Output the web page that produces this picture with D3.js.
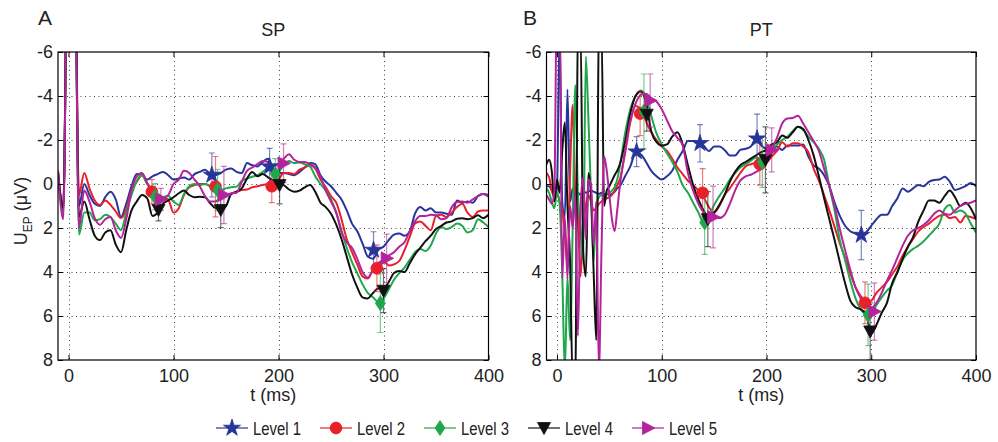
<!DOCTYPE html>
<html>
<head>
<meta charset="utf-8">
<script src="https://cdn.jsdelivr.net/npm/d3@7"></script>
<style>
  body { margin: 0; background: #fff; }
  svg { display: block; font-family: "Liberation Sans", Arial, Helvetica, sans-serif; }
</style>
</head>
<body>
<svg id="chart" width="998" height="442"></svg>
<script>
// ---- data -------------------------------------------------------------
const levels = ["Level 1", "Level 2", "Level 3", "Level 4", "Level 5"];
const xTicks = [0, 100, 200, 300, 400];
const yTicks = [-6, -4, -2, 0, 2, 4, 6, 8];

// sample times (ms)
const timesSP = d3.range(-10, 401, 5);
const timesPT = d3.range(-10, 60, 2.5).concat(d3.range(60, 401, 5));

// SP: averaged evoked potential per level (µV), one value per sample time
const spL1 = [-0.5, 1.0, -15, -15, 1.0, 0.0, 0.5, 0.9, 1.0, 0.6,
  0.35, 0.7, 1.5, 0.9, 0.1, -0.45, -0.4, -0.2, -0.35, -0.45,
  -0.55, -0.4, -0.2, -0.25, -0.3, -0.2, -0.45, -0.55, -0.65, -0.45,
  -0.4, -0.5, -0.65, -0.7, -0.55, -0.5, -0.95, -0.85, -0.8, -1.0,
  -1.15, -0.7, -0.5, -0.5, -0.45, -0.4, -0.55, -0.75, -0.95, -0.9,
  -0.4, -0.1, 0.1, 0.4, 0.7, 1.2, 1.8, 2.15, 2.7, 3.3,
  3.4, 3.0, 2.85, 2.55, 2.3, 2.25, 2.35, 2.15, 1.35, 1.05,
  1.2, 1.1, 1.3, 1.3, 1.35, 1.4, 0.75, 0.85, 0.8, 0.85,
  0.55, 0.45, 0.5];
const spL2 = [-0.6, 1.2, -15, -15, 0.5, -0.5, 0.2, 0.75, 0.95, 0.75,
  0.95, 1.25, 1.55, 1.15, 0.3, -0.1, -0.4, 0.0, 0.3, 0.45,
  0.6, 0.7, 1.3, 1.1, 0.5, 0.15, 0.05, 0.0, 0.0, 0.1,
  0.2, 0.45, 0.5, 0.45, 0.35, 0.27, 0.25, 0.15, 0.1, 0.05,
  0.0, -0.05, -0.2, -0.5, -0.5, -0.45, -0.65, -0.75, -0.85, -0.7,
  -0.2, 0.15, 0.55, 0.85, 1.6, 2.5, 3.1, 3.65, 4.2, 4.3,
  3.9, 3.75, 3.5, 3.7, 3.65, 3.5, 3.0, 2.4, 1.8, 1.7,
  1.9, 2.1, 1.45, 1.4, 1.5, 1.3, 1.05, 0.9, 1.3, 1.5,
  1.25, 1.2, 1.2];
const spL3 = [-0.6, 1.3, -15, -15, 2.3, 1.3, 1.3, 1.65, 1.6, 1.4,
  1.5, 1.8, 2.1, 1.3, 0.5, -0.15, -0.4, 0.0, 0.35, 0.7,
  0.6, 0.55, 0.8, 0.95, 0.45, 0.1, 0.0, 0.05, 0.0, 0.1,
  0.25, 0.27, 0.2, 0.15, 0.12, -0.15, -0.25, -0.33, -0.4, -0.55,
  -0.7, -0.45, -0.55, -0.85, -1.05, -0.95, -0.98, -0.9, -0.8, -0.35,
  0.0, 0.3, 0.7, 1.3, 2.1, 2.9, 3.55, 4.05, 4.55, 4.95,
  5.15, 5.35, 5.2, 4.8, 4.35, 4.05, 3.8, 3.45, 3.1, 2.95,
  3.05, 2.8, 2.25, 1.95, 2.05, 1.95, 1.8, 1.9, 2.2, 2.1,
  1.6, 1.75, 1.95];
const spL4 = [-0.5, 1.1, -15, -15, 1.5, 0.8, 1.6, 2.35, 2.55, 2.2,
  2.1, 2.75, 3.1, 2.1, 1.2, 0.8, 0.5, 0.65, 1.45, 1.3,
  0.9, 0.75, 0.6, 0.42, 0.3, 0.5, 0.6, 0.58, 0.6, 0.88,
  1.1, 1.15, 1.0, 0.45, 0.35, 0.2, -0.25, -0.55, -0.35, -0.45,
  -0.3, -0.15, 0.0, 0.05, 0.25, 0.35, 0.3, 0.15, 0.05, 0.35,
  0.85, 1.05, 1.35, 1.85, 2.5, 3.3, 4.1, 4.7, 5.15, 5.2,
  4.95, 4.75, 4.75, 4.45, 4.05, 3.95, 4.0, 3.6, 3.2, 2.9,
  2.6, 2.35, 2.05, 1.9, 1.75, 1.7, 1.58, 1.56, 1.6, 1.55,
  1.42, 1.55, 1.4];
const spL5 = [-0.6, 1.6, -15, -15, 2.0, 0.3, 0.8, 1.55, 1.85, 1.6,
  1.5, 2.1, 2.45, 1.6, 0.3, -0.35, -0.5, -0.05, 0.3, 0.55,
  0.65, 0.5, 0.0, -0.2, -0.6, -0.5, -0.2, 0.1, 0.55, 0.8,
  0.8, 0.6, 0.5, 0.42, 0.4, -0.1, -0.6, -0.75, -0.9, -1.05,
  -1.0, -0.85, -0.9, -1.15, -1.35, -1.1, -1.0, -1.0, -0.9, -0.75,
  -0.33, 0.3, 0.8, 1.3, 2.2, 2.65, 2.9, 3.4, 4.0, 4.25,
  3.9, 3.6, 3.45, 3.25, 3.1, 2.85, 2.65, 2.15, 1.7, 1.45,
  1.45, 1.4, 1.42, 1.6, 1.55, 1.05, 0.82, 0.8, 0.85, 0.7,
  0.55, 0.45, 0.58];

// PT: first 28 samples every 2.5 ms, then every 5 ms
const ptL1 = [0.1, 0.1, 0.3, 0.5, 0.2, -7, 0.8, 1.5, -4.3, 0.8,
  0.2, 0.6, 0.4, 0.5, 0.3, 0.4, 0.35, 0.3, 0.35, 0.4,
  0.45, 0.4, 0.5, 0.45, 0.5, 0.45, 0.35, 0.2,
  0.1, -0.35, -0.8, -1.4, -1.35, -1.0, -0.6, -0.35, -0.2, -0.35,
  -0.6, -1.1, -1.5, -1.95, -1.95, -1.9, -1.75, -1.5, -1.7, -1.7,
  -1.55, -1.3, -1.3, -1.55, -1.6, -1.7, -2.05, -1.75, -1.6, -1.65,
  -1.7, -1.55, -1.75, -1.75, -1.75, -1.8, -1.25, -0.85, -0.7, -0.4,
  0.1, 0.85, 1.45, 1.9, 2.15, 2.25, 2.35, 2.2, 1.9, 1.6,
  1.4, 1.4, 1.0, 0.65, 0.2, 0.35, 0.2, 0.05, 0.1, -0.1,
  -0.18, -0.2, -0.33, -0.1, 0.27, 0.2, 0.1, -0.05, 0.1];
const ptL2 = [-0.5, -0.3, 0.3, 0.6, 0.4, 0.8, 1.2, 2.2, 3.7, -0.5,
  -3.6, 0.5, 1.5, 4.2, 2.0, 1.0, 0.5, 0.8, 1.2, 1.1,
  0.9, 0.8, 0.7, 0.65, 0.6, 0.5, 0.3, 0.05,
  -0.2, -1.4, -2.8, -3.55, -3.4, -2.85, -2.35, -2.0, -1.7, -1.5,
  -1.15, -0.75, -0.45, -0.15, 0.05, 0.3, 0.6, 1.05, 1.3, 1.0,
  0.5, 0.2, -0.15, -0.5, -0.8, -0.9, -0.95, -0.85, -0.95, -1.25,
  -1.5, -1.9, -1.7, -1.85, -1.85, -1.7, -1.45, -0.7, -0.15, 0.5,
  1.2, 1.95, 2.7, 3.35, 4.05, 4.7, 5.1, 5.35, 5.3, 4.95,
  4.7, 4.45, 4.1, 3.75, 3.25, 2.85, 2.5, 2.15, 1.95, 1.8,
  1.6, 1.45, 1.4, 1.55, 1.5, 1.75, 1.45, 1.5, 1.6];
const ptL3 = [0.2, 0.4, 0.8, 1.1, 0.4, 0.9, 4.0, 8.5, 4.2, 7.1,
  2.0, -4.5, 0.5, 2.0, 3.5, -5.8, -3.0, 0.5, 3.5, 1.0,
  0.6, 0.5, 0.55, 0.45, 0.4, 0.3, 0.15, -0.2,
  -0.8, -2.3, -3.4, -4.0, -4.25, -3.95, -3.1, -2.3, -1.8, -1.4,
  -1.0, -0.55, 0.05, 0.4, 0.85, 1.3, 1.75, 1.5, 0.95, 0.55,
  0.2, -0.2, -0.5, -0.75, -0.9, -1.05, -1.2, -1.15, -1.3, -1.6,
  -1.8, -2.0, -2.15, -2.4, -2.6, -2.45, -2.15, -1.9, -1.6, -1.1,
  0.1, 1.2, 2.55, 3.45, 4.4, 5.2, 5.7, 5.9, 5.9, 5.5,
  5.15, 4.85, 4.6, 4.0, 3.45, 3.15, 2.95, 2.8, 2.6, 2.35,
  2.1, 1.8, 1.15, 0.95, 1.3, 1.2, 1.35, 1.8, 2.2];
const ptL4 = [-0.9, -1.1, -0.6, 0.8, -0.2, 0.4, -1.5, -2.8, 1.0, 3.5,
  9, 9, -7, -7, 3.0, 4.2, -0.5, 0.5, 4.0, 7.1,
  -7, -7, 1.0, 0.3, 0.1, -0.15, -0.4, -0.6,
  -0.9, -1.9, -3.2, -4.0, -4.2, -3.7, -2.4, -1.9, -1.75, -1.8,
  -2.15, -2.35, -1.8, -0.85, 0.05, 0.7, 1.2, 1.5, 1.3, 0.95,
  0.5, -0.1, -0.55, -0.85, -1.0, -1.15, -1.3, -1.45, -1.55, -1.8,
  -1.9, -2.2, -2.1, -2.35, -2.6, -2.5, -2.0, -1.3, -0.35, 0.65,
  1.6, 2.55, 3.55, 4.5, 5.3, 5.6, 5.7, 5.9, 6.8, 6.4,
  5.85, 5.4, 4.5, 4.0, 3.4, 2.85, 2.4, 1.7, 1.2, 0.75,
  0.75, 0.85, 0.55, 0.3, 0.6, 1.0, 0.85, 1.1, 1.6];
const ptL5 = [0.5, 0.7, 0.9, 0.3, -9, -9, 4.3, 1.5, 4.3, 1.0,
  2.0, 0.5, 6.9, 1.0, -0.3, 2.5, -0.2, 0.0, 2.8, 0.8,
  8.5, 3.0, -1.25, -0.6, 0.5, 1.6, 2.15, 1.2,
  0.1, -1.5, -2.9, -3.65, -4.05, -4.1, -3.9, -3.75, -3.4, -2.9,
  -2.4, -2.1, -1.75, -0.5, 0.3, 0.9, 1.3, 1.5, 1.5, 1.55,
  1.4, 0.9, 0.3, -0.15, -0.35, -0.42, -0.55, -0.7, -1.1, -1.6,
  -2.1, -2.75, -2.98, -3.0, -3.1, -2.75, -2.35, -1.95, -1.5, -0.7,
  0.1, 1.0, 2.05, 3.0, 3.9, 4.7, 5.2, 5.55, 5.65, 5.4,
  4.95, 4.4, 3.9, 3.35, 2.8, 2.35, 2.1, 2.0, 1.85, 1.65,
  1.35, 1.2, 1.35, 1.4, 1.2, 1.0, 0.9, 0.85, 0.75];

// component peaks: latency (ms), mean amplitude (µV), error (µV) per level
const spPeakTimes = [[136.5, 191.5, 290.5], [79.4, 140, 193.6, 293.7], [82.5, 142, 197, 297], [85.7, 145, 201, 300], [88, 148, 204.8, 303]];
const spPeakMeans = [[-0.41, -0.79, 3.0], [0.35, 0.12, 0.1, 3.83], [0.58, 0.27, -0.45, 5.42], [1.18, 1.18, 0.05, 4.85], [0.7, 0.5, -0.94, 3.38]];
const spPeakErrs  = [[1.0, 0.83, 0.83], [0.55, 1.37, 0.75, 1.06], [0.6, 0.94, 0.7, 1.33], [0.5, 0.8, 0.85, 1.0], [0.5, 1.3, 0.88, 1.1]];

const ptPeakTimes = [[76, 136.5, 191, 290.5], [79.4, 139, 193.6, 294], [83, 141, 196, 297], [85.7, 144, 199, 299], [89, 149, 205, 303]];
const ptPeakMeans = [[-1.47, -1.85, -2.06, 2.32], [-3.2, 0.4, -0.9, 5.4], [-3.3, 1.75, -1.0, 5.95], [-3.15, 1.6, -1.1, 6.7], [-3.8, 1.5, -1.55, 5.8]];
const ptPeakErrs  = [[0.68, 0.85, 1.12, 1.12], [1.0, 1.1, 0.95, 0.95], [1.7, 1.45, 1.15, 1.4], [0.75, 1.25, 1.5, 1.3], [1.2, 1.4, 1.0, 1.3]];

// ---- styling ----------------------------------------------------------
const colors = ["#27349a", "#e8202a", "#1ea84b", "#111111", "#b3239b"];
const markerPaths = [
  d3.symbol(d3.symbolStar, 90)(),
  d3.symbol(d3.symbolCircle, 110)(),
  "M0,-7.5L5,0L0,7.5L-5,0Z",
  "M-6.5,-5.5L6.5,-5.5L0,6.5Z",
  "M-5.5,-6.5L7,0L-5.5,6.5Z"
];

const svg = d3.select("#chart");
const plotTop = 52, plotBottom = 360;
const y = d3.scaleLinear().domain([-6, 8]).range([plotTop, plotBottom]);

function drawPanel(cfg, idx) {
  const x = d3.scaleLinear().domain([-10, 400]).range([cfg.left, cfg.right]);
  const g = svg.append("g");
  const clipId = "clip" + idx;
  svg.append("clipPath").attr("id", clipId)
    .append("rect").attr("x", cfg.left).attr("y", plotTop)
    .attr("width", cfg.right - cfg.left).attr("height", plotBottom - plotTop);

  // dotted grid
  const grid = g.append("g").attr("stroke", "#444").attr("stroke-width", 1)
    .attr("stroke-dasharray", "1,3.5");
  grid.selectAll("line.gx").data(xTicks.filter(d => d < 400)).join("line")
    .attr("class", "gx")
    .attr("x1", d => Math.round(x(d)) + 0.5).attr("x2", d => Math.round(x(d)) + 0.5)
    .attr("y1", plotTop).attr("y2", plotBottom);
  grid.selectAll("line.gy").data(yTicks.filter(d => d > -6 && d < 8)).join("line")
    .attr("class", "gy")
    .attr("x1", cfg.left).attr("x2", cfg.right)
    .attr("y1", d => Math.round(y(d)) + 0.5).attr("y2", d => Math.round(y(d)) + 0.5);

  // curves
  const line = d3.line().x(d => x(d[0])).y(d => y(d[1])).curve(d3.curveMonotoneX);
  const plot = g.append("g").attr("clip-path", `url(#${clipId})`);
  cfg.series.forEach((vals, i) => {
    const pts = cfg.times.map((t, k) => [t, vals[k]]);
    plot.append("path").datum(pts)
      .attr("fill", "none").attr("stroke", colors[i])
      .attr("stroke-width", 2).attr("stroke-linejoin", "round")
      .attr("d", line);
  });

  // error bars and peak markers
  cfg.peakTimes.forEach((ts, i) => {
    ts.forEach((t, j) => {
      const m = cfg.peakMeans[i][j], e = cfg.peakErrs[i][j];
      const px = x(t);
      const eb = plot.append("g").attr("stroke", colors[i]).attr("stroke-width", 1.2)
        .attr("stroke-opacity", 0.6);
      eb.append("line").attr("x1", px).attr("x2", px).attr("y1", y(m - e)).attr("y2", y(m + e));
      eb.append("line").attr("x1", px - 3).attr("x2", px + 3).attr("y1", y(m - e)).attr("y2", y(m - e));
      eb.append("line").attr("x1", px - 3).attr("x2", px + 3).attr("y1", y(m + e)).attr("y2", y(m + e));
    });
  });
  cfg.peakTimes.forEach((ts, i) => {
    ts.forEach((t, j) => {
      plot.append("path").attr("d", markerPaths[i])
        .attr("transform", `translate(${x(t)},${y(cfg.peakMeans[i][j])})`)
        .attr("fill", colors[i]).attr("stroke", colors[i]).attr("stroke-width", 0.8);
    });
  });

  // frame
  g.append("rect").attr("x", cfg.left).attr("y", plotTop)
    .attr("width", cfg.right - cfg.left).attr("height", plotBottom - plotTop)
    .attr("fill", "none").attr("stroke", "#000").attr("stroke-width", 1.2);

  // axes (inward ticks on all four sides)
  const fmt = d => String(d);
  const styleAxis = sel => {
    sel.select(".domain").remove();
    sel.selectAll(".tick line").attr("stroke", "#000");
    sel.selectAll("text").attr("font-size", 18).attr("fill", "#222")
      .attr("font-family", "Liberation Sans, Arial, sans-serif");
  };
  g.append("g").attr("transform", `translate(${cfg.left},0)`)
    .call(d3.axisLeft(y).tickValues(yTicks).tickSize(-5).tickPadding(5).tickFormat(fmt))
    .call(styleAxis);
  g.append("g").attr("transform", `translate(${cfg.right},0)`)
    .call(d3.axisRight(y).tickValues(yTicks).tickSize(-5).tickFormat(""))
    .call(styleAxis);
  g.append("g").attr("transform", `translate(0,${plotBottom})`)
    .call(d3.axisBottom(x).tickValues(xTicks).tickSize(-5).tickPadding(9).tickFormat(fmt))
    .call(styleAxis);
  g.append("g").attr("transform", `translate(0,${plotTop})`)
    .call(d3.axisTop(x).tickValues(xTicks).tickSize(-5).tickFormat(""))
    .call(styleAxis);

  const cx = (cfg.left + cfg.right) / 2;
  g.append("text").attr("x", cx).attr("y", 36).attr("text-anchor", "middle")
    .attr("font-size", 18).attr("fill", "#222").text(cfg.title);
  g.append("text").attr("x", cfg.letterX).attr("y", 25).attr("text-anchor", "middle")
    .attr("font-size", 21).attr("fill", "#222").text(cfg.letter);
  g.append("text").attr("x", cx).attr("y", 401).attr("text-anchor", "middle")
    .attr("font-size", 18).attr("fill", "#222").text("t (ms)");
}

const panels = [
  { letter: "A", letterX: 45, title: "SP", left: 58, right: 488.5, times: timesSP,
    series: [spL1, spL2, spL3, spL4, spL5],
    peakTimes: spPeakTimes, peakMeans: spPeakMeans, peakErrs: spPeakErrs },
  { letter: "B", letterX: 530, title: "PT", left: 546.5, right: 976, times: timesPT,
    series: [ptL1, ptL2, ptL3, ptL4, ptL5],
    peakTimes: ptPeakTimes, peakMeans: ptPeakMeans, peakErrs: ptPeakErrs }
];
panels.forEach(drawPanel);

// y-axis label
const yl = svg.append("text").attr("transform", "translate(27,211) rotate(-90)")
  .attr("text-anchor", "middle").attr("font-size", 18).attr("fill", "#222");
yl.append("tspan").text("U");
yl.append("tspan").attr("font-size", 12).attr("dy", 5).text("EP");
yl.append("tspan").attr("dy", -5).text(" (\u03BCV)");

// legend
const legend = svg.append("g");
levels.forEach((name, i) => {
  const lx = 216 + i * 104;
  const item = legend.append("g");
  item.append("line").attr("x1", lx).attr("x2", lx + 32).attr("y1", 428).attr("y2", 428)
    .attr("stroke", colors[i]).attr("stroke-width", 1.2);
  item.append("path").attr("d", markerPaths[i])
    .attr("transform", `translate(${lx + 16},428)`)
    .attr("fill", colors[i]).attr("stroke", colors[i]).attr("stroke-width", 0.8);
  item.append("text").attr("x", lx + 37).attr("y", 434.5)
    .attr("font-size", 18).attr("fill", "#222")
    .attr("textLength", 48).attr("lengthAdjust", "spacingAndGlyphs")
    .text(name);
});
</script>
</body>
</html>
